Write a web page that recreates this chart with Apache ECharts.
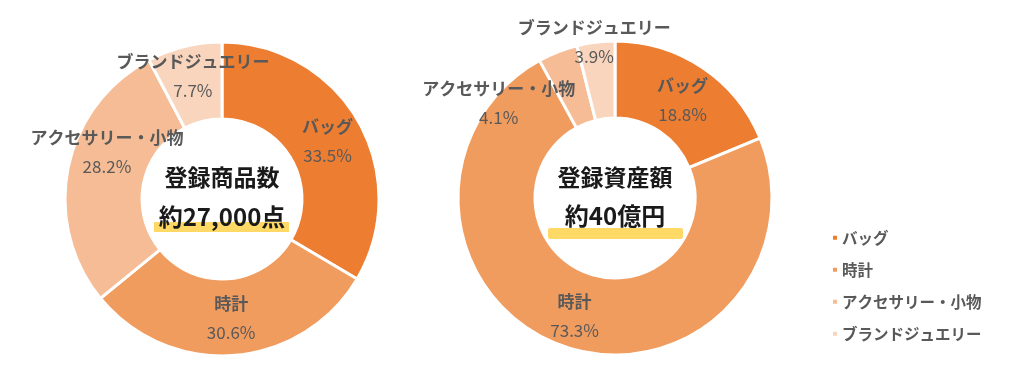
<!DOCTYPE html>
<html><head><meta charset="utf-8">
<script src="https://cdn.jsdelivr.net/npm/echarts@6/dist/echarts.min.js"></script>
<style>html,body{margin:0;padding:0;background:#fff}#c{width:1024px;height:381px}</style>
</head><body><div id="c"></div>
<script>
const categories = ['バッグ', '時計', 'アクセサリー・小物', 'ブランドジュエリー'];
const itemShare = [33.5, 30.6, 28.2, 7.7];     // 登録商品数 %
const assetShare = [18.8, 73.3, 4.1, 3.9];     // 登録資産額 %
const colors = ['#ED7D31', '#F19C5F', '#F5BC95', '#F9D5BD'];
const leftTitle = ['登録商品数', '約27,000点'];
const rightTitle = ['登録資産額', '約40億円'];

const FONT = '"Noto Sans CJK JP", "Noto Sans", sans-serif';
const leftOffsets = [[0, 2], [0, -2], [4, -23], [0, -5]];
const rightOffsets = [[0, 3], [0, 3], [-72, 18], [-6, -35]];

function makeData(vals, offs) {
  return categories.map((n, i) => ({
    name: n, value: vals[i],
    label: { offset: offs[i] }
  }));
}
const labelCfg = {
  show: true, position: 'inner',
  formatter: p => '{n|' + p.name + '}\n{v|' + p.value.toFixed(1) + '%}',
  rich: {
    n: { fontFamily: FONT, fontSize: 17, fontWeight: 'bold', color: '#595959', lineHeight: 29 },
    v: { fontFamily: FONT, fontSize: 17, color: '#595959', lineHeight: 29 }
  }
};
const chart = echarts.init(document.getElementById('c'), null, { renderer: 'canvas' });
chart.setOption({
  animation: false,
  color: colors,
  legend: {
    orient: 'vertical', left: 826, top: 225,
    itemWidth: 6, itemHeight: 6, itemGap: 16.5, icon: 'rect',
    data: categories,
    textStyle: { fontFamily: FONT, fontSize: 15.5, fontWeight: 'bold', color: '#595959', padding: [0, 0, 0, -1] }
  },
  graphic: [
    { type: 'rect', shape: { x: 154, y: 222, width: 135, height: 10 }, style: { fill: '#FFD966' }, z: 1 },
    { type: 'rect', shape: { x: 548, y: 228, width: 135, height: 11, r: 2 }, style: { fill: '#FFD966' }, z: 1 },
    { type: 'text', x: 222, y: 177, style: { text: leftTitle[0], fontFamily: FONT, fontSize: 23, fontWeight: 'bold', fill: '#1a1a1a', align: 'center', verticalAlign: 'middle' }, z: 2 },
    { type: 'text', x: 222, y: 217, style: { text: leftTitle[1], fontFamily: FONT, fontSize: 24, fontWeight: 'bold', fill: '#1a1a1a', align: 'center', verticalAlign: 'middle' }, z: 2 },
    { type: 'text', x: 615, y: 177, style: { text: rightTitle[0], fontFamily: FONT, fontSize: 23, fontWeight: 'bold', fill: '#1a1a1a', align: 'center', verticalAlign: 'middle' }, z: 2 },
    { type: 'text', x: 615, y: 216, style: { text: rightTitle[1], fontFamily: FONT, fontSize: 24, fontWeight: 'bold', fill: '#1a1a1a', align: 'center', verticalAlign: 'middle' }, z: 2 }
  ],
  series: [
    {
      type: 'pie', center: [222, 199], radius: [80, 157], startAngle: 90, clockwise: true,
      itemStyle: { borderColor: '#fff', borderWidth: 3 },
      label: labelCfg, labelLine: { show: false }, emphasis: { disabled: true },
      data: makeData(itemShare, leftOffsets)
    },
    {
      type: 'pie', center: [615, 198], radius: [80, 157], startAngle: 90, clockwise: true,
      itemStyle: { borderColor: '#fff', borderWidth: 3 },
      label: labelCfg, labelLine: { show: false }, emphasis: { disabled: true },
      data: makeData(assetShare, rightOffsets)
    }
  ]
});
</script></body></html>
